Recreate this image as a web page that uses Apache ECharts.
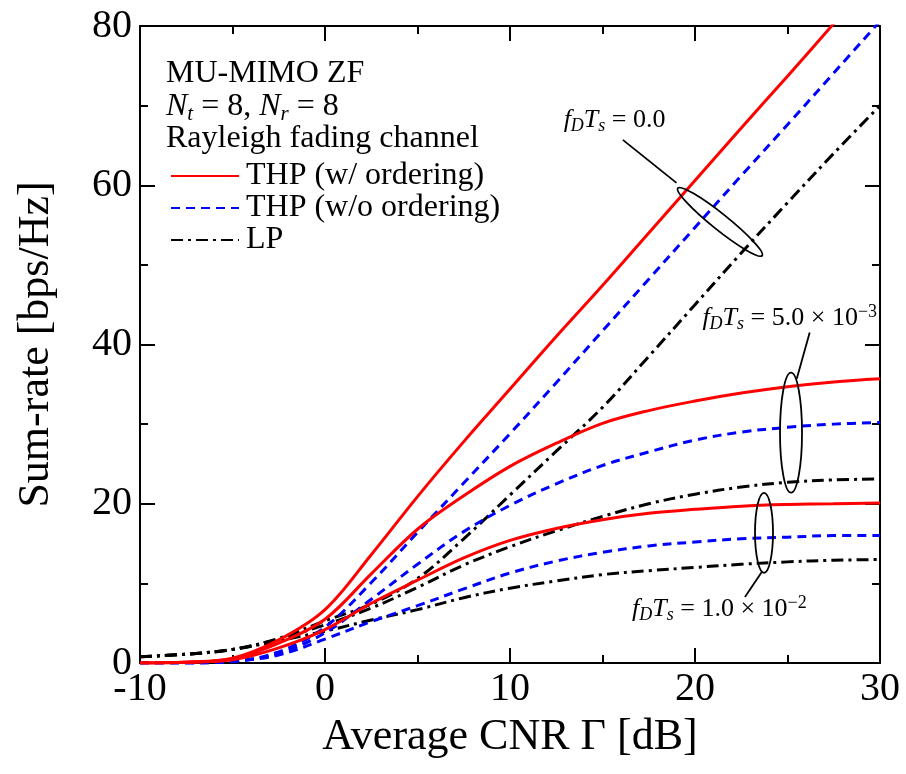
<!DOCTYPE html>
<html>
<head>
<meta charset="utf-8">
<script src="https://cdn.jsdelivr.net/npm/echarts@6/dist/echarts.min.js"></script>
<style>html,body{margin:0;padding:0;background:#fff}#chart{width:906px;height:774px}</style>
</head>
<body>
<div id="chart"></div>
<script>
var FONT = '"Liberation Serif", "Times New Roman", serif'

// x axis: average CNR [dB]
var snr = [-10,-7.5,-5,-2.5,0,2.5,5,7.5,10,12.5,15,17.5,20,22.5,25,27.5,30]

// fDTs = 0.0
var thpOrd0   = [0,0.1,0.6,2.9,6.7,13.6,20.9,27.8,34.4,41,47.4,54,60.6,67.2,73.7,80.3,86.9]
var thpNoOrd0 = [0,0,0.2,1.4,4.5,10.1,16.4,22.6,28.8,35.2,41.7,48.2,54.7,61.2,67.6,74.1,80.6]
var lp0       = [0.8,1.1,1.7,3.1,5.3,7.4,10.6,15.6,21.1,26.6,32.1,38.5,45,51.5,57.8,64,70]

// fDTs = 5.0e-3
var thpOrd5   = [0,0.1,0.5,2.5,5.5,11.2,16.8,21,24.7,27.6,30.1,31.7,32.9,33.9,34.7,35.3,35.7]
var thpNoOrd5 = [0,0,0.2,1.2,3.8,8,12.4,16.5,19.8,22.5,24.8,26.5,28,29,29.6,30,30.2]
var lp5       = [0.8,1.1,1.7,3.0,4.8,6.9,9.5,12.3,14.6,16.6,18.4,20,21.2,22.1,22.7,23,23.1]

// fDTs = 1.0e-2
var thpOrd10   = [0,0.1,0.4,1.9,4.2,7.5,10.4,13.2,15.4,16.9,18,18.8,19.3,19.7,19.9,20,20.1]
var thpNoOrd10 = [0,0,0.2,1.0,3.0,5.2,7.2,9.3,11.3,12.8,13.9,14.7,15.2,15.6,15.8,16,16]
var lp10       = [0.8,1.1,1.7,2.8,4.0,5.4,6.7,8.2,9.4,10.3,11.1,11.6,12,12.4,12.7,12.9,13]

var names = ['THP (w/ ordering)', 'THP (w/o ordering)', 'LP']

var chart = echarts.init(document.getElementById('chart'))

function mkSeries(name, vals, color, dash, z) {
    return {
        name: name, type: 'line', z: z,
        data: snr.map(function (x, i) { return [x, vals[i]] }),
        symbol: 'none', showSymbol: false,
        smooth: 0.35,
        clip: true,
        lineStyle: { color: color, width: 3, type: dash },
        itemStyle: { color: color },
        emphasis: { disabled: true }
    }
}

var series = []
series.push(mkSeries(names[2], lp0, '#000', [12, 5, 3, 5], 2))
series.push(mkSeries(names[2], lp5, '#000', [12, 5, 3, 5], 2))
series.push(mkSeries(names[2], lp10, '#000', [12, 5, 3, 5], 2))
series.push(mkSeries(names[1], thpNoOrd0, '#0000ff', [9, 6], 3))
series.push(mkSeries(names[1], thpNoOrd5, '#0000ff', [9, 6], 3))
series.push(mkSeries(names[1], thpNoOrd10, '#0000ff', [9, 6], 3))
series.push(mkSeries(names[0], thpOrd0, '#ff0000', 'solid', 4))
series.push(mkSeries(names[0], thpOrd5, '#ff0000', 'solid', 4))
series.push(mkSeries(names[0], thpOrd10, '#ff0000', 'solid', 4))

var tickStyle = { color: '#000', width: 2 }
function xAx(pos, show) {
    return {
        type: 'value', position: pos, min: -10, max: 30, interval: 10,
        axisLine: { onZero: false, lineStyle: tickStyle },
        axisTick: { inside: true, length: 15, lineStyle: tickStyle },
        minorTick: { show: true, splitNumber: 2, length: 8, lineStyle: tickStyle },
        splitLine: { show: false },
        axisLabel: { show: show, fontSize: 40, color: '#000', fontFamily: FONT, margin: 6 },
        name: show ? 'Average CNR \u0393 [dB]' : '', nameLocation: 'middle', nameGap: 52,
        nameTextStyle: { fontSize: 44, color: '#000', fontFamily: FONT }
    }
}
function yAx(pos, show) {
    return {
        type: 'value', position: pos, min: 0, max: 80, interval: 20,
        axisLine: { onZero: false, lineStyle: tickStyle },
        axisTick: { inside: true, length: 15, lineStyle: tickStyle },
        minorTick: { show: true, splitNumber: 2, length: 8, lineStyle: tickStyle },
        splitLine: { show: false },
        axisLabel: { show: show, fontSize: 40, color: '#000', fontFamily: FONT, margin: 8 },
        name: show ? 'Sum-rate [bps/Hz]' : '', nameLocation: 'middle', nameGap: 82,
        nameTextStyle: { fontSize: 44, color: '#000', fontFamily: FONT }
    }
}

chart.setOption({
    animation: false,
    backgroundColor: '#fff',
    grid: { left: 140, right: 26, top: 26, bottom: 111 },
    xAxis: [xAx('bottom', true), xAx('top', false)],
    yAxis: [yAx('left', true), yAx('right', false)],
    legend: {
        orient: 'vertical', left: 165, top: 155,
        itemWidth: 68, itemHeight: 14, itemGap: 0,
        data: names,
        selectedMode: false,
        itemStyle: { opacity: 0 },
        textStyle: { fontSize: 32, color: '#000', fontFamily: FONT, padding: [0, 0, 0, 2] }
    },
    series: series
})

// annotation anchors in data coords
var ell0 = [21.35, 55.4], ell5 = [25.19, 28.93], ell10 = [23.73, 16.35]
var lead0 = [[16.1, 65.7], [19.0, 60.3]]
var lead5 = [[25.5, 35.7], [26.2, 41.5]]
var lead10 = [[23.6, 11.4], [22.7, 8.3]]
var lab0 = [12.9, 68.2], lab5 = [20.4, 43.3], lab10 = [16.6, 6.7]

function px(p) { return chart.convertToPixel({ gridIndex: 0 }, p) }

var annRich = {
    i: { fontSize: 26, fontStyle: 'italic', fontFamily: FONT, lineHeight: 30 },
    s: { fontSize: 18, fontStyle: 'italic', fontFamily: FONT, lineHeight: 14, verticalAlign: 'bottom' },
    n: { fontSize: 26, fontFamily: FONT, lineHeight: 30 },
    p: { fontSize: 18, fontFamily: FONT, lineHeight: 14, verticalAlign: 'top' }
}
var hdRich = {
    i: { fontSize: 32, fontStyle: 'italic', fontFamily: FONT, lineHeight: 36 },
    s: { fontSize: 21, fontStyle: 'italic', fontFamily: FONT, lineHeight: 18, verticalAlign: 'bottom' },
    n: { fontSize: 32, fontFamily: FONT, lineHeight: 36 }
}

function ellipse(c, rx, ry, rotDeg) {
    var p = px(c)
    return { type: 'ellipse', x: p[0], y: p[1], rotation: rotDeg * Math.PI / 180, z: 10,
        shape: { cx: 0, cy: 0, rx: rx, ry: ry },
        style: { fill: null, stroke: '#000', lineWidth: 1.8 }, silent: true }
}
function leader(l) {
    var a = px(l[0]), b = px(l[1])
    return { type: 'line', z: 10, silent: true,
        shape: { x1: a[0], y1: a[1], x2: b[0], y2: b[1] },
        style: { stroke: '#000', lineWidth: 1.8 } }
}
function label(pos, txt) {
    var p = px(pos)
    return { type: 'text', x: p[0], y: p[1], z: 10, silent: true,
        style: { text: txt, rich: annRich, fill: '#000', align: 'left', verticalAlign: 'middle' } }
}
function header(y, txt) {
    return { type: 'text', x: 166, y: y, z: 10, silent: true,
        style: { text: txt, rich: hdRich, fill: '#000', align: 'left', verticalAlign: 'middle' } }
}

chart.setOption({
    graphic: [
        header(74, '{n|MU-MIMO ZF}'),
        header(107, '{i|N}{s|t}{n| = 8, }{i|N}{s|r}{n| = 8}'),
        header(139, '{n|Rayleigh fading channel}'),
        ellipse(ell0, 54, 8, -38.7),
        ellipse(ell5, 11, 60, 0),
        ellipse(ell10, 9, 40, 0),
        leader(lead0), leader(lead5), leader(lead10),
        label(lab0, '{i|f}{s|D}{i|T}{s|s}{n| = 0.0}'),
        label(lab5, '{i|f}{s|D}{i|T}{s|s}{n| = 5.0 \u00d7 10}{p|\u22123}'),
        label(lab10, '{i|f}{s|D}{i|T}{s|s}{n| = 1.0 \u00d7 10}{p|\u22122}')
    ]
})
</script>
</body>
</html>
